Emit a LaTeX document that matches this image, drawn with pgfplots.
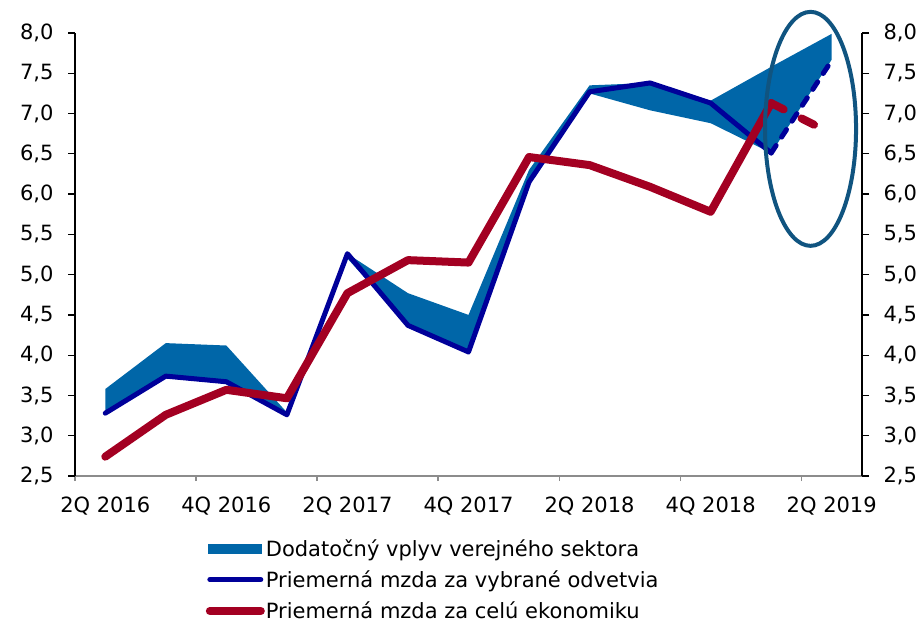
\documentclass[border=0pt]{standalone}
\usepackage{fontspec}
\setmainfont{DejaVu Sans}
\usepackage{pgfplots}
\pgfplotsset{compat=1.18}
\usepgfplotslibrary{fillbetween}
\definecolor{areacol}{RGB}{0,102,168}
\definecolor{navyline}{RGB}{0,0,153}
\definecolor{redline}{RGB}{163,0,34}
\definecolor{ellcol}{RGB}{16,84,128}
\definecolor{axgray}{RGB}{140,140,140}

\begin{document}
\begin{tikzpicture}
\pgfplotsset{
  base/.style={
    at={(0,0)}, anchor=south west,
    scale only axis, width=787pt, height=443pt,
    xmin=-0.5, xmax=12.5, ymin=2.5, ymax=8,
    ytick={2.5,3,...,8},
    tick align=outside,
    major tick length=7pt,
    /pgf/number format/assume math mode=true,
    tick label style={font=\fontsize{21pt}{25pt}\selectfont},
    yticklabel style={/pgf/number format/fixed, /pgf/number format/fixed zerofill,
      /pgf/number format/precision=1, /pgf/number format/use comma},
    major y tick style={black, line width=1.2pt},
  }
}
\begin{axis}[base,
    clip=false,
    axis x line*=bottom, axis y line*=left,
    x axis line style={-, axgray, line width=1.5pt},
    y axis line style={-, black, line width=1.5pt},
    xtick={0,2,...,12},
    xticklabels={2Q 2016,4Q 2016,2Q 2017,4Q 2017,2Q 2018,4Q 2018,2Q 2019},
    major x tick style={draw=none},
    minor xtick={-0.5,1.5,...,11.5},
    minor x tick style={axgray, line width=1.5pt},
    minor tick length=5pt,
    xticklabel style={yshift=-10pt},
    yticklabel style={xshift=-11pt},
    legend style={at={(axis description cs:0.166,-0.14)}, anchor=north west,
      draw=none, fill=none, inner sep=0pt,
      font=\fontsize{21pt}{25pt}\selectfont,
      row sep=11pt,
      /tikz/every even column/.append style={column sep=2pt},
      nodes={inner sep=1pt, anchor=west}},
    legend cell align=left,
  ]
  % stacked area: lower and upper edges
  \addplot[name path=U, draw=none, forget plot] coordinates {
    (0,3.58) (1,4.15) (2,4.12) (3,3.29) (4,5.26) (5,4.77) (6,4.50)
    (7,6.30) (8,7.35) (9,7.38) (10,7.16) (11,7.58) (12,7.99) };
  \addplot[name path=L, draw=none, forget plot] coordinates {
    (0,3.28) (1,3.74) (2,3.67) (3,3.26) (4,5.20) (5,4.37) (6,4.04)
    (7,6.15) (8,7.25) (9,7.04) (10,6.88) (11,6.51) (12,7.67) };
  \addplot[areacol, forget plot] fill between[of=U and L];

  % selected sectors
  \addplot[navyline, line width=5pt, line cap=round, line join=round, forget plot] coordinates {
    (0,3.28) (1,3.74) (2,3.67) (3,3.26) (4,5.26) (5,4.37) (6,4.04)
    (7,6.15) (8,7.27) (9,7.38) (10,7.13) (11,6.51) };
  \addplot[navyline, line width=5pt, line cap=round, dash pattern=on 9pt off 10pt, forget plot] coordinates {
    (11,6.51) (12,7.66) };

  % whole economy
  \addplot[redline, line width=8pt, line cap=round, line join=round, forget plot] coordinates {
    (0,2.74) (1,3.26) (2,3.57) (3,3.465) (4,4.77) (5,5.18) (6,5.15)
    (7,6.46) (8,6.36) (9,6.09) (10,5.78) (11,7.13) };
  \addplot[redline, line width=8pt, line cap=round, dash pattern=on 14pt off 20pt, forget plot] coordinates {
    (11,7.13) (12,6.75) };

  \draw[ellcol, line width=4pt] (axis cs:11.65,6.81) ellipse [x radius=45.5pt, y radius=117pt];

  \addlegendimage{legend image code/.code={\fill[areacol] (0pt,-4.5pt) rectangle (53pt,4.5pt);}}
  \addlegendentry{Dodatočný vplyv verejného sektora}
  \addlegendimage{legend image code/.code={\draw[navyline, line width=5pt, line cap=round] (2pt,0pt) -- (53pt,0pt);}}
  \addlegendentry{Priemerná mzda za vybrané odvetvia}
  \addlegendimage{legend image code/.code={\draw[redline, line width=8pt, line cap=round] (2pt,0pt) -- (53pt,0pt);}}
  \addlegendentry{Priemerná mzda za celú ekonomiku}
\end{axis}

\begin{axis}[base,
    axis x line=none, axis y line*=right,
    y axis line style={-, black, line width=1.5pt},
    yticklabel style={xshift=11pt},
  ]
  \addplot[draw=none] coordinates {(0,3)};
\end{axis}
\pgfresetboundingbox
\path (-75pt,-146pt) rectangle (845pt,476pt);
\end{tikzpicture}
\end{document}
